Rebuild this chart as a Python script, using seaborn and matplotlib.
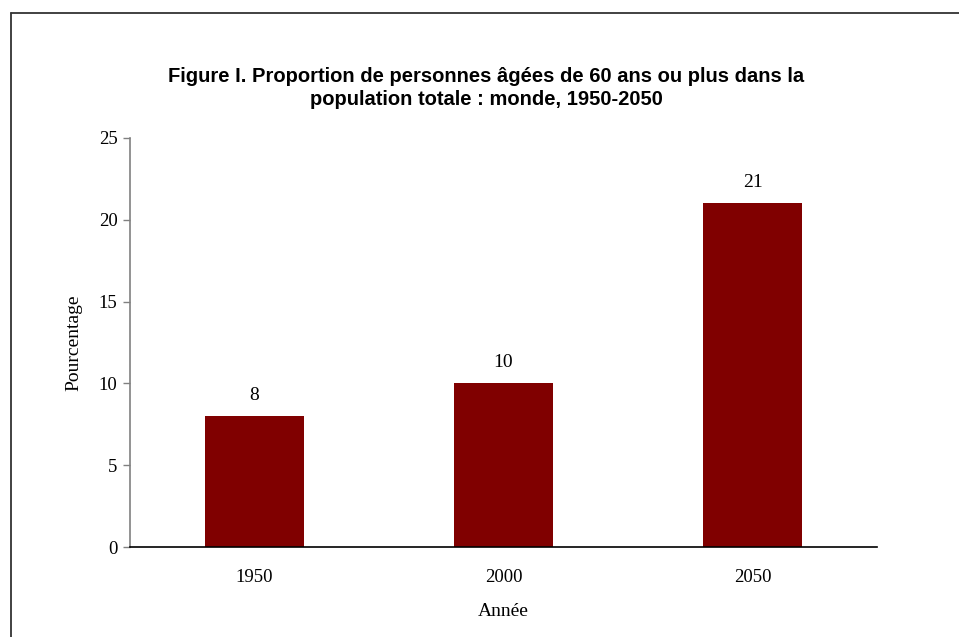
import matplotlib
matplotlib.use("Agg")
import matplotlib.pyplot as plt
import seaborn as sns
import pandas as pd
from matplotlib.lines import Line2D

years = ["1950", "2000", "2050"]
values = [8, 10, 21]
yticks = [0, 5, 10, 15, 20, 25]

sns.set_theme(style="white")
plt.rcParams['font.family'] = ['Liberation Serif', 'DejaVu Serif']
plt.rcParams['text.color'] = 'black'
plt.rcParams['axes.labelcolor'] = 'black'
plt.rcParams['xtick.color'] = 'black'
plt.rcParams['ytick.color'] = 'black'

fig = plt.figure(figsize=(9.59, 6.37), dpi=100)
ax = fig.add_axes([130/959, 1-547/637, (877-130)/959, (547-138)/637])

df = pd.DataFrame({"Année": years, "Pourcentage": values})
sns.barplot(data=df, x="Année", y="Pourcentage", color="#800000", width=0.4,
            saturation=1, ax=ax, edgecolor="none")

ax.set_ylim(0, 25)
ax.set_xlim(-0.5, 2.5)
ax.set_yticks(yticks)
ax.set_yticklabels([str(t) for t in yticks], fontsize=13.5)
ax.tick_params(axis='y', which='both', left=True, length=5, width=1,
               color="#808080", labelcolor="black", pad=4)
ax.tick_params(axis='x', bottom=False, pad=10, labelcolor="black")
for lab in ax.get_xticklabels():
    lab.set_fontsize(13.5)

for s in ["top", "right"]:
    ax.spines[s].set_visible(False)
ax.spines["left"].set_color("#808080")
ax.spines["left"].set_linewidth(1.2)
ax.spines["bottom"].set_color("#000000")
ax.spines["bottom"].set_linewidth(1.2)

ax.set_xlabel("Année", fontsize=14, labelpad=12, color="black")
ax.set_ylabel("Pourcentage", fontsize=14, labelpad=12, color="black")

for i, v in enumerate(values):
    ax.annotate(str(v), (i, v), xytext=(0, 9), textcoords="offset points",
                ha="center", va="bottom", fontsize=14, color="black")

fig.text(486/959, 1-88/637, "Figure I. Proportion de personnes âgées de 60 ans ou plus dans la\npopulation totale : monde, 1950-2050",
         ha="center", va="center", fontsize=14.5, fontweight="bold", color="black",
         family=["Liberation Sans", "DejaVu Sans"], linespacing=1.3)

fig.add_artist(Line2D([10.5/959, 10.5/959], [0, 1-12.5/637], transform=fig.transFigure, color="#333333", lw=1.3))
fig.add_artist(Line2D([10.5/959, 1], [1-12.5/637, 1-12.5/637], transform=fig.transFigure, color="#333333", lw=1.3))

fig.savefig("out.png", dpi=100)
